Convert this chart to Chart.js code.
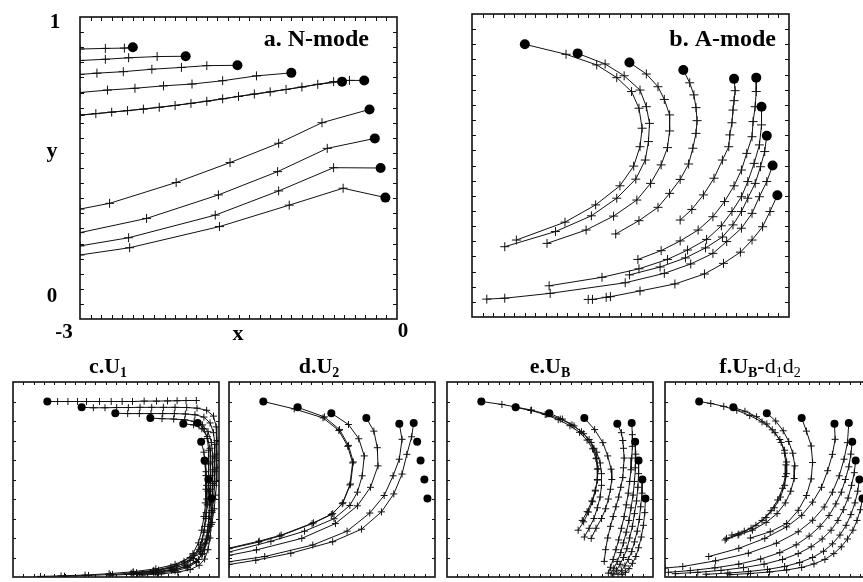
<!DOCTYPE html>
<html>
<head>
<meta charset="utf-8">
<script src="https://cdn.jsdelivr.net/npm/chart.js@4"></script>
<style>
  html, body { margin: 0; padding: 0; background: #fff; overflow: hidden; width: 863px; height: 582px; }
  .panel { position: absolute; }
  canvas { display: block; }
</style>
</head>
<body>
<div class="panel" style="left:0;top:0"><canvas id="pa" width="430" height="345"></canvas></div>
<div class="panel" style="left:440px;top:0"><canvas id="pb" width="423" height="345"></canvas></div>
<div class="panel" style="left:0;top:345px"><canvas id="pc" width="224" height="237"></canvas></div>
<div class="panel" style="left:224px;top:345px"><canvas id="pd" width="218" height="237"></canvas></div>
<div class="panel" style="left:442px;top:345px"><canvas id="pe" width="218" height="237"></canvas></div>
<div class="panel" style="left:660px;top:345px"><canvas id="pf" width="215" height="237"></canvas></div>
<script>
// Starting positions shared by every experiment (filled circles)
const startX = [-2.5, -2.0, -1.51, -1.0, -0.52, -0.31, -0.26, -0.21, -0.155, -0.11];
const startY = [0.90, 0.87, 0.84, 0.815, 0.786, 0.79, 0.694, 0.598, 0.50, 0.402];

// Axis tick labels
const xTickLabels = ['-3', '0'];
const yTickLabels = ['0', '1'];
const xAxisName = 'x';
const yAxisName = 'y';

// Panel captions
const titleA = 'a. N-mode';
const titleB = 'b. A-mode';
const titleC = [['c.U', 'b'], ['1', 'bs']];
const titleD = [['d.U', 'b'], ['2', 'bs']];
const titleE = [['e.U', 'b'], ['B', 'bs']];
const titleF = [['f.U', 'b'], ['B', 'bs'], ['-', 'b'], ['d', 'r'], ['1', 'rs'], ['d', 'r'], ['2', 'rs']];

// Track positions after the start point, one list per start point
const tracksN = [
  [[-2.58,0.897],[-2.76,0.896],[-3,0.894]],
  [[-2.27,0.869],[-2.54,0.865],[-2.76,0.860],[-3,0.856]],
  [[-1.80,0.839],[-2.04,0.833],[-2.32,0.827],[-2.59,0.819],[-2.84,0.814],[-3,0.810]],
  [[-1.33,0.805],[-1.65,0.789],[-1.94,0.778],[-2.21,0.772],[-2.48,0.764],[-2.74,0.758],[-3,0.750]],
  [[-0.75,0.777],[-1.05,0.760],[-1.35,0.745],[-1.65,0.729],[-1.95,0.714],[-2.25,0.701],[-2.55,0.690],[-2.85,0.680],[-3,0.675]],
  [[-0.45,0.790],[-0.6,0.786],[-0.9,0.768],[-1.2,0.752],[-1.5,0.737],[-1.8,0.721],[-2.1,0.707],[-2.4,0.695],[-2.7,0.685],[-3,0.675]],
  [[-0.71,0.650],[-1.12,0.582],[-1.58,0.518],[-2.09,0.452],[-2.72,0.383],[-3,0.364]],
  [[-0.66,0.565],[-1.13,0.488],[-1.69,0.411],[-2.37,0.333],[-3,0.286]],
  [[-0.60,0.501],[-1.12,0.424],[-1.72,0.344],[-2.54,0.269],[-3,0.242]],
  [[-0.51,0.433],[-1.02,0.377],[-1.68,0.306],[-2.53,0.236],[-3,0.212]]
];

const tracksA = [
  [[-2.11,0.867],[-1.82,0.832],[-1.63,0.790],[-1.49,0.744],[-1.42,0.689],[-1.39,0.623],[-1.41,0.562],[-1.47,0.498],[-1.60,0.433],[-1.83,0.370],[-2.12,0.313],[-2.58,0.254]],
  [[-1.74,0.835],[-1.56,0.796],[-1.41,0.749],[-1.35,0.694],[-1.32,0.639],[-1.33,0.579],[-1.36,0.518],[-1.45,0.455],[-1.63,0.392],[-1.87,0.334],[-2.21,0.282],[-2.69,0.232]],
  [[-1.35,0.802],[-1.24,0.760],[-1.18,0.718],[-1.13,0.667],[-1.13,0.614],[-1.15,0.559],[-1.21,0.502],[-1.31,0.441],[-1.44,0.386],[-1.66,0.333],[-1.92,0.287],[-2.29,0.243]],
  [[-0.94,0.773],[-0.90,0.733],[-0.88,0.691],[-0.87,0.648],[-0.88,0.606],[-0.91,0.557],[-0.95,0.505],[-1.03,0.454],[-1.13,0.408],[-1.24,0.362],[-1.42,0.318],[-1.64,0.274]],
  [[-0.51,0.747],[-0.52,0.714],[-0.53,0.683],[-0.54,0.641],[-0.56,0.601],[-0.57,0.562],[-0.63,0.518],[-0.71,0.458],[-0.81,0.403],[-0.92,0.355],[-1.03,0.320]],
  [[-0.31,0.744],[-0.32,0.694],[-0.34,0.645],[-0.35,0.595],[-0.40,0.540],[-0.45,0.485],[-0.52,0.433],[-0.61,0.381],[-0.72,0.331],[-0.86,0.287],[-1.03,0.251],[-1.21,0.219],[-1.43,0.190]],
  [[-0.26,0.634],[-0.28,0.568],[-0.33,0.507],[-0.39,0.447],[-0.45,0.397],[-0.54,0.348],[-0.64,0.301],[-0.78,0.256],[-0.96,0.221],[-1.15,0.190],[-1.42,0.159],[-1.77,0.131],[-2.27,0.103]],
  [[-0.23,0.546],[-0.27,0.496],[-0.32,0.441],[-0.39,0.392],[-0.45,0.348],[-0.53,0.304],[-0.63,0.264],[-0.79,0.228],[-0.98,0.195],[-1.22,0.165],[-1.51,0.139]],
  [[-0.21,0.447],[-0.28,0.397],[-0.35,0.342],[-0.45,0.293],[-0.59,0.249],[-0.72,0.210],[-0.93,0.175],[-1.18,0.144],[-1.55,0.113],[-2.26,0.078],[-2.69,0.062],[-2.86,0.059]],
  [[-0.18,0.348],[-0.25,0.298],[-0.35,0.254],[-0.46,0.214],[-0.62,0.177],[-0.80,0.142],[-1.08,0.109],[-1.41,0.086],[-1.69,0.067],[-1.73,0.065],[-1.86,0.058],[-1.90,0.058]]
];

const tracksU1 = [
  [[-2.35,0.90],[-2.20,0.90],[-2.06,0.90],[-1.93,0.90],[-1.74,0.90],[-1.57,0.90],[-1.41,0.90],[-1.26,0.90],[-1.09,0.902],[-0.91,0.902],[-0.75,0.903],[-0.61,0.904],[-0.48,0.905],[-0.33,0.905]],
  [[-1.83,0.868],[-1.66,0.868],[-1.49,0.869],[-1.32,0.869],[-1.15,0.870],[-0.98,0.870],[-0.81,0.870],[-0.64,0.870],[-0.47,0.869],[-0.32,0.866],[-0.18,0.855],[-0.08,0.825],[-0.04,0.77],[-0.03,0.70],[-0.03,0.63],[-0.03,0.56],[-0.04,0.49],[-0.05,0.42],[-0.07,0.35],[-0.10,0.28],[-0.16,0.21],[-0.26,0.15],[-0.42,0.10],[-0.64,0.065],[-0.92,0.042],[-1.25,0.027],[-1.60,0.017],[-1.95,0.010],[-2.3,0.006],[-2.6,0.003]],
  [[-1.33,0.838],[-1.16,0.838],[-0.99,0.838],[-0.82,0.838],[-0.65,0.838],[-0.49,0.836],[-0.35,0.832],[-0.22,0.82],[-0.13,0.79],[-0.08,0.74],[-0.06,0.68],[-0.06,0.61],[-0.06,0.54],[-0.07,0.47],[-0.08,0.40],[-0.10,0.33],[-0.13,0.26],[-0.18,0.19],[-0.27,0.13],[-0.42,0.085],[-0.62,0.055],[-0.88,0.035],[-1.2,0.022],[-1.55,0.013],[-1.9,0.008],[-2.25,0.004]],
  [[-0.83,0.812],[-0.66,0.810],[-0.50,0.806],[-0.36,0.798],[-0.24,0.78],[-0.16,0.745],[-0.11,0.69],[-0.09,0.62],[-0.09,0.55],[-0.09,0.48],[-0.10,0.41],[-0.11,0.34],[-0.13,0.27],[-0.16,0.20],[-0.21,0.14],[-0.30,0.09],[-0.45,0.058],[-0.66,0.037],[-0.92,0.024],[-1.24,0.015],[-1.58,0.009]],
  [[-0.37,0.78],[-0.25,0.76],[-0.17,0.72],[-0.13,0.66],[-0.12,0.59],[-0.12,0.52],[-0.12,0.45],[-0.13,0.38],[-0.14,0.31],[-0.16,0.24],[-0.19,0.175],[-0.24,0.12],[-0.33,0.08],[-0.48,0.052],[-0.69,0.034],[-0.95,0.022],[-1.27,0.014]],
  [[-0.22,0.76],[-0.17,0.71],[-0.15,0.65],[-0.15,0.58],[-0.15,0.51],[-0.16,0.44],[-0.17,0.37],[-0.19,0.30],[-0.22,0.23],[-0.27,0.165],[-0.36,0.11],[-0.50,0.072],[-0.70,0.046],[-0.96,0.03],[-1.28,0.019]],
  [[-0.22,0.64],[-0.20,0.58],[-0.19,0.52],[-0.19,0.45],[-0.20,0.38],[-0.22,0.31],[-0.25,0.24],[-0.30,0.175],[-0.38,0.12],[-0.51,0.08],[-0.70,0.052],[-0.95,0.034],[-1.25,0.022]],
  [[-0.19,0.54],[-0.18,0.47],[-0.18,0.40],[-0.19,0.33],[-0.21,0.26],[-0.24,0.195],[-0.29,0.14],[-0.37,0.095],[-0.50,0.062],[-0.68,0.04],[-0.92,0.026],[-1.2,0.017]],
  [[-0.14,0.44],[-0.14,0.37],[-0.15,0.30],[-0.17,0.23],[-0.20,0.17],[-0.25,0.115],[-0.33,0.075],[-0.46,0.048],[-0.64,0.031],[-0.88,0.02],[-1.16,0.013]],
  [[-0.10,0.34],[-0.11,0.27],[-0.13,0.20],[-0.16,0.14],[-0.21,0.092],[-0.29,0.06],[-0.42,0.038],[-0.60,0.025],[-0.84,0.016],[-1.12,0.01]]
];

const tracksU2 = [
  [[-2.05,0.862],[-1.63,0.816],[-1.40,0.751],[-1.27,0.670],[-1.20,0.585],[-1.24,0.472],[-1.35,0.376],[-1.51,0.320],[-1.79,0.273],[-2.26,0.210],[-2.57,0.179],[-3,0.145]],
  [[-1.61,0.821],[-1.39,0.756],[-1.26,0.675],[-1.19,0.590],[-1.23,0.477],[-1.34,0.381],[-1.49,0.325],[-1.77,0.278],[-2.24,0.215],[-2.56,0.184],[-3,0.148]],
  [[-1.26,0.782],[-1.11,0.709],[-1.03,0.621],[-1.06,0.519],[-1.13,0.435],[-1.24,0.367],[-1.47,0.299],[-1.90,0.235],[-2.39,0.183],[-3,0.128]],
  [[-0.89,0.748],[-0.84,0.663],[-0.83,0.570],[-0.94,0.460],[-1.13,0.365],[-1.45,0.274],[-1.94,0.198],[-2.60,0.139],[-3,0.111]],
  [[-0.48,0.706],[-0.52,0.604],[-0.61,0.519],[-0.74,0.418],[-0.95,0.328],[-1.28,0.235],[-1.78,0.164],[-2.48,0.105],[-3,0.078]],
  [[-0.34,0.719],[-0.41,0.629],[-0.48,0.528],[-0.60,0.426],[-0.78,0.334],[-1.07,0.245],[-1.49,0.181],[-2.10,0.122],[-2.61,0.086],[-3,0.064]],
  null, null, null, null
];

const tracksUB = [
  [[-2.2,0.885],[-2.0,0.872],[-1.77,0.856],[-1.55,0.835],[-1.35,0.81],[-1.18,0.78],[-1.04,0.745],[-0.93,0.705],[-0.86,0.66],[-0.82,0.61],[-0.80,0.555],[-0.81,0.50],[-0.84,0.445],[-0.89,0.39],[-0.96,0.335],[-1.03,0.29]],
  [[-1.78,0.854],[-1.57,0.833],[-1.38,0.807],[-1.21,0.776],[-1.07,0.742],[-0.96,0.702],[-0.88,0.657],[-0.83,0.607],[-0.81,0.553],[-0.81,0.497],[-0.84,0.441],[-0.88,0.386],[-0.94,0.333],[-1.01,0.283],[-1.09,0.24]],
  [[-1.32,0.81],[-1.15,0.775],[-1.01,0.735],[-0.90,0.69],[-0.82,0.64],[-0.77,0.585],[-0.75,0.53],[-0.75,0.47],[-0.77,0.41],[-0.81,0.355],[-0.86,0.30],[-0.93,0.25],[-1.0,0.205]],
  [[-0.85,0.756],[-0.73,0.689],[-0.66,0.621],[-0.61,0.553],[-0.60,0.50],[-0.62,0.45],[-0.65,0.40],[-0.69,0.35],[-0.75,0.30],[-0.83,0.25],[-0.90,0.198]],
  [[-0.46,0.74],[-0.44,0.70],[-0.43,0.66],[-0.42,0.61],[-0.43,0.56],[-0.44,0.51],[-0.47,0.46],[-0.50,0.41],[-0.54,0.36],[-0.58,0.31],[-0.62,0.26],[-0.66,0.20],[-0.69,0.14],[-0.71,0.08]],
  [[-0.30,0.73],[-0.30,0.67],[-0.31,0.61],[-0.32,0.55],[-0.34,0.49],[-0.36,0.43],[-0.39,0.37],[-0.42,0.31],[-0.46,0.25],[-0.50,0.19],[-0.54,0.14],[-0.58,0.09],[-0.62,0.05],[-0.65,0.02]],
  [[-0.25,0.63],[-0.26,0.56],[-0.27,0.49],[-0.29,0.42],[-0.32,0.355],[-0.35,0.29],[-0.39,0.23],[-0.43,0.175],[-0.47,0.125],[-0.52,0.08],[-0.57,0.045],[-0.61,0.02]],
  [[-0.21,0.53],[-0.22,0.46],[-0.24,0.39],[-0.27,0.325],[-0.30,0.26],[-0.34,0.2],[-0.38,0.145],[-0.43,0.1],[-0.48,0.065],[-0.53,0.035],[-0.57,0.015]],
  [[-0.16,0.43],[-0.18,0.36],[-0.20,0.295],[-0.23,0.235],[-0.27,0.18],[-0.31,0.13],[-0.36,0.09],[-0.41,0.057],[-0.46,0.032],[-0.51,0.015]],
  [[-0.12,0.33],[-0.14,0.265],[-0.17,0.205],[-0.21,0.15],[-0.25,0.105],[-0.30,0.07],[-0.35,0.043],[-0.40,0.024],[-0.45,0.012]]
];

const tracksUBd = [
  [[-2.33,0.89],[-2.14,0.875],[-1.95,0.855],[-1.76,0.828],[-1.58,0.795],[-1.43,0.755],[-1.32,0.705],[-1.25,0.65],[-1.22,0.59],[-1.22,0.53],[-1.25,0.47],[-1.31,0.41],[-1.40,0.355],[-1.52,0.305],[-1.67,0.265],[-1.84,0.235],[-2.02,0.215]],
  [[-1.83,0.85],[-1.66,0.822],[-1.51,0.785],[-1.39,0.74],[-1.30,0.69],[-1.25,0.635],[-1.23,0.575],[-1.24,0.515],[-1.28,0.455],[-1.35,0.395],[-1.45,0.34],[-1.58,0.29],[-1.74,0.25],[-1.92,0.22],[-2.1,0.198]],
  [[-1.38,0.80],[-1.27,0.75],[-1.19,0.695],[-1.13,0.635],[-1.10,0.57],[-1.11,0.505],[-1.16,0.44],[-1.24,0.38],[-1.36,0.325],[-1.52,0.28],[-1.72,0.24],[-1.93,0.215],[-2.12,0.19]],
  [[-0.93,0.748],[-0.86,0.672],[-0.84,0.587],[-0.86,0.503],[-0.93,0.418],[-1.05,0.342],[-1.22,0.274],[-1.46,0.232],[-1.75,0.20]],
  [[-0.51,0.706],[-0.55,0.629],[-0.62,0.545],[-0.71,0.46],[-0.84,0.384],[-1.00,0.316],[-1.22,0.257],[-1.54,0.198],[-1.92,0.147],[-2.36,0.105]],
  [[-0.33,0.689],[-0.38,0.604],[-0.45,0.519],[-0.55,0.435],[-0.67,0.359],[-0.84,0.291],[-1.05,0.232],[-1.37,0.173],[-1.78,0.122],[-2.26,0.083],[-2.74,0.054],[-3.0,0.046]],
  [[-0.28,0.63],[-0.31,0.565],[-0.36,0.50],[-0.42,0.435],[-0.50,0.375],[-0.60,0.315],[-0.73,0.26],[-0.89,0.21],[-1.08,0.165],[-1.32,0.125],[-1.60,0.092],[-1.92,0.066],[-2.27,0.047],[-2.63,0.033],[-2.95,0.024]],
  [[-0.23,0.535],[-0.27,0.47],[-0.32,0.405],[-0.39,0.345],[-0.47,0.29],[-0.57,0.24],[-0.70,0.195],[-0.86,0.155],[-1.05,0.12],[-1.28,0.09],[-1.55,0.066],[-1.85,0.048],[-2.18,0.034],[-2.52,0.024],[-2.85,0.017]],
  [[-0.18,0.44],[-0.22,0.38],[-0.28,0.32],[-0.35,0.265],[-0.44,0.215],[-0.55,0.17],[-0.68,0.132],[-0.84,0.10],[-1.03,0.074],[-1.25,0.054],[-1.50,0.039],[-1.78,0.028],[-2.08,0.02],[-2.40,0.014]],
  [[-0.14,0.345],[-0.19,0.29],[-0.25,0.24],[-0.33,0.195],[-0.42,0.155],[-0.53,0.12],[-0.66,0.09],[-0.82,0.067],[-1.0,0.049],[-1.22,0.036],[-1.47,0.026],[-1.75,0.018],[-2.05,0.012]]
];

const SERIF = '"Liberation Serif", "Times New Roman", serif';

// Draw a caption made of runs (normal / subscript, bold / regular), centred on cx
function drawRuns(ctx, runs, cx, baseline, size) {
  const fontFor = k => {
    const bold = k[0] === 'b';
    const sub = k.length > 1 && k[1] === 's';
    return (bold ? 'bold ' : '') + Math.round(sub ? size * 0.62 : size) + 'px ' + SERIF;
  };
  let total = 0;
  const widths = runs.map(([t, k]) => { ctx.font = fontFor(k); const w = ctx.measureText(t).width; total += w; return w; });
  let x = cx - total / 2;
  ctx.textAlign = 'left';
  ctx.textBaseline = 'alphabetic';
  runs.forEach(([t, k], i) => {
    ctx.font = fontFor(k);
    const sub = k.length > 1 && k[1] === 's';
    ctx.fillText(t, x, baseline + (sub ? size * 0.2 : 0));
    x += widths[i];
  });
}

// Frame, inward tick marks and captions
const panelFrame = {
  id: 'panelFrame',
  afterDraw(chart, args, o) {
    const { ctx, chartArea: a } = chart;
    const xs = chart.scales.x, ys = chart.scales.y;
    ctx.save();
    ctx.strokeStyle = '#111';
    ctx.lineWidth = 1;
    ctx.beginPath();
    for (let i = 1; i < o.nx; i++) {
      const v = xs.min + i * (xs.max - xs.min) / o.nx;
      const px = Math.round(xs.getPixelForValue(v)) + 0.5;
      ctx.moveTo(px, a.top); ctx.lineTo(px, a.top + o.tick);
      ctx.moveTo(px, a.bottom); ctx.lineTo(px, a.bottom - o.tick);
    }
    for (let i = 1; i < o.ny; i++) {
      const v = ys.min + i * (ys.max - ys.min) / o.ny;
      const py = Math.round(ys.getPixelForValue(v)) + 0.5;
      ctx.moveTo(a.left, py); ctx.lineTo(a.left + o.tick, py);
      ctx.moveTo(a.right, py); ctx.lineTo(a.right - o.tick, py);
    }
    ctx.stroke();
    ctx.lineWidth = 1.6;
    ctx.strokeRect(a.left, a.top, a.right - a.left, a.bottom - a.top);

    ctx.fillStyle = '#000';
    ctx.textBaseline = 'alphabetic';
    (o.labels || []).forEach(l => {
      ctx.font = 'bold ' + l.size + 'px ' + SERIF;
      ctx.textAlign = l.align || 'center';
      ctx.fillText(l.text, l.x, l.y);
    });
    if (o.runs) drawRuns(ctx, o.runs.parts, o.runs.x, o.runs.y, o.runs.size);
    ctx.restore();
  }
};

function toPoints(list) { return list.map(p => ({ x: p[0], y: p[1] })); }

function makePanel(id, tracks, cfg) {
  const datasets = [];
  tracks.forEach((trk, i) => {
    if (!trk) return;
    const pts = [{ x: startX[i], y: startY[i] }].concat(toPoints(trk));
    datasets.push({
      data: pts,
      showLine: true,
      borderColor: '#111',
      borderWidth: 1,
      tension: 0,
      pointStyle: 'cross',
      pointRadius: c => (c.dataIndex === 0 ? 0 : cfg.cross),
      pointBorderColor: '#111',
      pointBorderWidth: 1,
      pointBackgroundColor: '#111',
      order: 1
    });
  });
  datasets.push({
    data: startX.map((x, i) => ({ x, y: startY[i] })),
    showLine: false,
    pointStyle: 'circle',
    pointRadius: cfg.dot,
    pointBackgroundColor: '#000',
    pointBorderColor: '#000',
    pointBorderWidth: 0,
    order: 0
  });
  new Chart(document.getElementById(id), {
    type: 'scatter',
    data: { datasets },
    options: {
      responsive: false,
      animation: false,
      devicePixelRatio: 1,
      events: [],
      layout: { padding: cfg.pad },
      scales: {
        x: { type: 'linear', min: -3, max: 0, display: false },
        y: { type: 'linear', min: 0, max: 1, display: false }
      },
      plugins: {
        legend: { display: false },
        tooltip: { enabled: false },
        panelFrame: { nx: cfg.nx, ny: cfg.ny, tick: cfg.tick, labels: cfg.labels, runs: cfg.runs }
      }
    },
    plugins: [panelFrame]
  });
}

makePanel('pa', tracksN, {
  pad: { left: 80, top: 17, right: 33, bottom: 26 },
  nx: 30, ny: 20, tick: 4, cross: 4.5, dot: 5,
  labels: [
    { text: yTickLabels[1], x: 55, y: 28, size: 21 },
    { text: yAxisName, x: 52, y: 157, size: 22 },
    { text: yTickLabels[0], x: 52, y: 302, size: 21 },
    { text: xTickLabels[0], x: 64, y: 338, size: 21 },
    { text: xAxisName, x: 238, y: 340, size: 22 },
    { text: xTickLabels[1], x: 403, y: 337, size: 21 },
    { text: titleA, x: 369, y: 46, size: 24, align: 'right' }
  ]
});

makePanel('pb', tracksA, {
  pad: { left: 32, top: 14, right: 74, bottom: 28 },
  nx: 30, ny: 20, tick: 4, cross: 4.5, dot: 5,
  labels: [{ text: titleB, x: 336, y: 46, size: 24, align: 'right' }]
});

const small = { nx: 20, ny: 10, tick: 3, cross: 3.5, dot: 4 };
makePanel('pc', tracksU1, Object.assign({}, small, {
  pad: { left: 13, top: 37, right: 3, bottom: 3 },
  runs: { parts: titleC, x: 108, y: 28, size: 22 }
}));
makePanel('pd', tracksU2, Object.assign({}, small, {
  pad: { left: 4, top: 37, right: 7, bottom: 3 },
  runs: { parts: titleD, x: 95, y: 28, size: 22 }
}));
makePanel('pe', tracksUB, Object.assign({}, small, {
  pad: { left: 3, top: 37, right: 7, bottom: 3 },
  runs: { parts: titleE, x: 108, y: 28, size: 22 }
}));
makePanel('pf', tracksUBd, Object.assign({}, small, {
  pad: { left: 4, top: 37, right: 4, bottom: 3 },
  runs: { parts: titleF, x: 100, y: 28, size: 22 }
}));
</script>
</body>
</html>
